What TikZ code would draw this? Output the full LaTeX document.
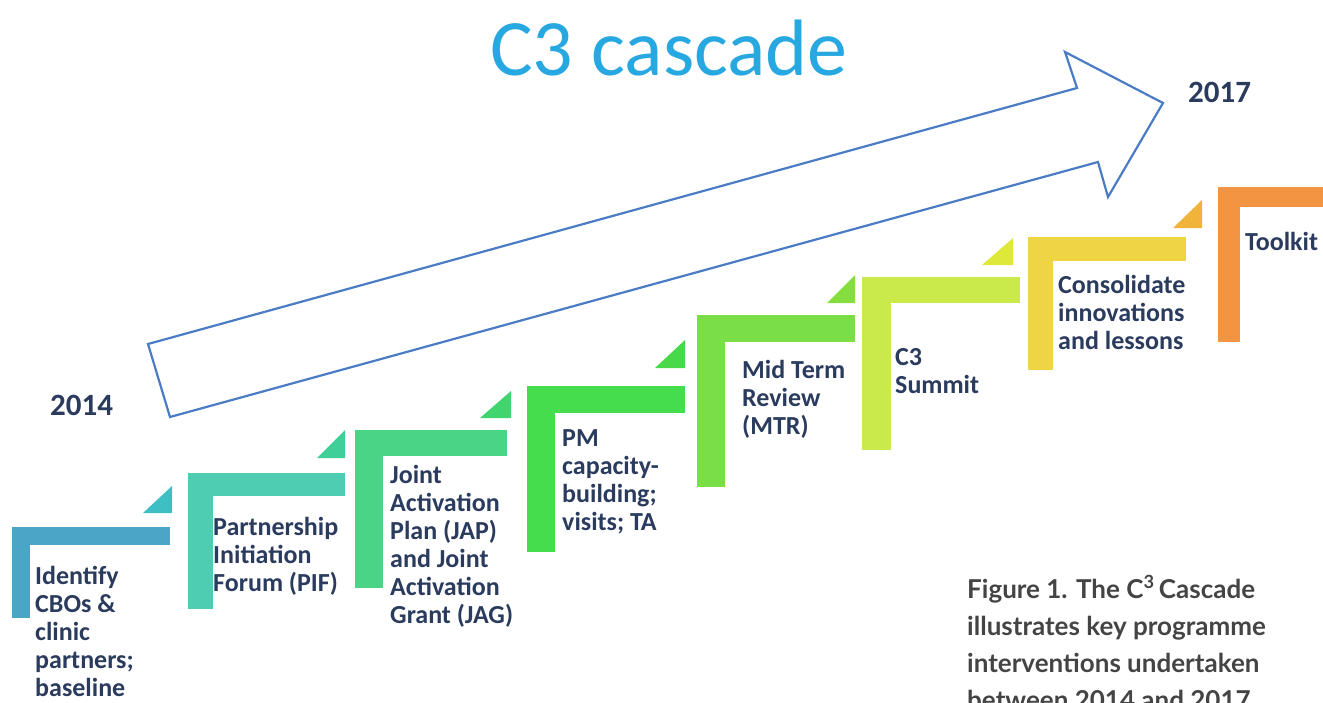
\documentclass[tikz,border=0pt]{standalone}
\usepackage{fontspec}
\setmainfont{Carlito}
\newfontfamily\capfont{Lato}
\usetikzlibrary{positioning}

\definecolor{titleblue}{HTML}{27A8E0}
\definecolor{arrowblue}{HTML}{4A7CC6}
\definecolor{textnavy}{HTML}{2A3B5E}
\definecolor{capgray}{HTML}{444444}
\definecolor{stepA}{HTML}{4AA5C6}
\definecolor{stepB}{HTML}{4ECDB2}
\definecolor{stepC}{HTML}{4AD486}
\definecolor{stepD}{HTML}{45DC4E}
\definecolor{stepE}{HTML}{7ADF46}
\definecolor{stepF}{HTML}{C9EA4A}
\definecolor{stepG}{HTML}{EFD544}
\definecolor{stepH}{HTML}{F39442}
\definecolor{triA}{HTML}{3EBFC4}
\definecolor{triB}{HTML}{3FD09A}
\definecolor{triC}{HTML}{40D56E}
\definecolor{triD}{HTML}{48D84A}
\definecolor{triE}{HTML}{86DE3E}
\definecolor{triF}{HTML}{DDE838}
\definecolor{triG}{HTML}{F0B43A}

% base anchor of a multi-line node sits on its last line
\tikzset{
  steptext/.style={anchor=base west, align=left, inner sep=0pt, text=textnavy,
    font=\bfseries\fontsize{26}{28}\selectfont},
  yeartext/.style={anchor=base west, inner sep=0pt, text=textnavy,
    font=\bfseries\fontsize{31}{31}\selectfont},
}

\begin{document}
\begin{tikzpicture}[x=1pt,y=-1pt]
        \useasboundingbox (0,0) rectangle (1323,702);

        % title and years
        \node[anchor=base west, inner sep=0pt, text=titleblue, font=\fontsize{80}{80}\selectfont] (title) at (490,75) {C3 cascade};
        \node[yeartext] (year14) at (50,415) {2014};
        \node[yeartext] (year17) at (1188,102) {2017};

        % big arrow
        \draw[arrowblue, line width=2.2pt, line join=miter] (148,344) -- (1077,88) -- (1065,52) -- (1163,103)
            -- (1108,197) -- (1098,162) -- (170,417) -- cycle;

        % step 1
        \fill[stepA] (12,527) rectangle (170,545);
        \fill[stepA] (12,527) rectangle (30,618);
        \fill[triA] (143,513) -- (172,486) -- (172,513) -- cycle;
        \node[steptext] (cbo) at (35,696) {Identify\\CBOs \&\\clinic\\partners;\\baseline};

        % step 2
        \fill[stepB] (188,473) rectangle (345,496);
        \fill[stepB] (188,473) rectangle (213,609);
        \fill[triB] (317,458) -- (345,430) -- (345,458) -- cycle;
        \node[steptext] (pif) at (213,591) {Partnership\\Initiation\\Forum (PIF)};

        % step 3
        \fill[stepC] (355,430) rectangle (507,456);
        \fill[stepC] (355,430) rectangle (383,588);
        \fill[triC] (480,418) -- (511,391) -- (511,418) -- cycle;
        \node[steptext] (jap) at (390,623) {Joint\\Activation\\Plan (JAP)\\and Joint\\Activation\\Grant (JAG)};

        % step 4
        \fill[stepD] (527,386) rectangle (685,413);
        \fill[stepD] (527,386) rectangle (555,552);
        \fill[triD] (655,368) -- (685,340) -- (685,368) -- cycle;
        \node[steptext] (pm) at (562,530) {PM\\capacity-\\building;\\visits; TA};

        % step 5
        \fill[stepE] (697,315) rectangle (855,342);
        \fill[stepE] (697,315) rectangle (725,487);
        \fill[triE] (827,303) -- (855,275) -- (855,303) -- cycle;
        \node[steptext] (mtr) at (742,434) {Mid Term\\Review\\(MTR)};

        % step 6
        \fill[stepF] (862,277) rectangle (1020,303);
        \fill[stepF] (862,277) rectangle (891,450);
        \fill[triF] (982,265) -- (1013,238) -- (1013,265) -- cycle;
        \node[steptext] (summit) at (895,393) {C3\\Summit};

        % step 7
        \fill[stepG] (1028,237) rectangle (1186,261);
        \fill[stepG] (1028,237) rectangle (1053,370);
        \fill[triG] (1173,228) -- (1202,200) -- (1202,228) -- cycle;
        \node[steptext] (lessons) at (1058,349) {Consolidate\\innovations\\and lessons};

        % step 8
        \fill[stepH] (1218,187) rectangle (1330,207);
        \fill[stepH] (1218,187) rectangle (1240,342);
        \node[steptext] (toolkit) at (1245,250) {Toolkit};

        % caption
        \node[anchor=base west, align=left, inner sep=0pt, text=capgray,
            font=\capfont\bfseries\fontsize{26}{37}\selectfont] (caption) at (967,709)
            {Figure 1. The C\textsuperscript{3}\,Cascade\\illustrates key programme\\interventions undertaken\\between 2014 and 2017.};
    \end{tikzpicture}
\end{document}
